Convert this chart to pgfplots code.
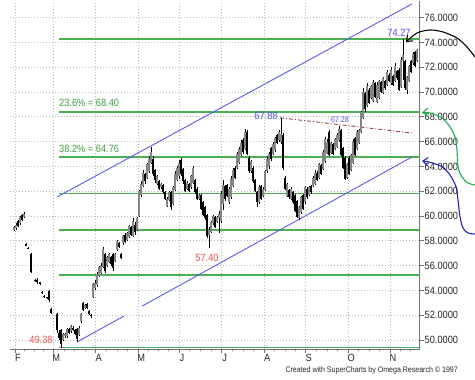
\documentclass[border=0pt]{standalone}
\usepackage{fontspec}
\setmainfont{Liberation Sans}[FakeStretch=0.88]
\usepackage{pgfplots}
\pgfplotsset{compat=1.18}
\usepackage{pgfplotstable}
\usetikzlibrary{arrows.meta}
\definecolor{fibgreen}{HTML}{4CAF50}
\definecolor{fibtext}{HTML}{3FA041}
\definecolor{chanblue}{HTML}{5A5AFF}
\definecolor{lblblue}{HTML}{5050FF}
\definecolor{lblred}{HTML}{FF4D4D}
\definecolor{dashred}{HTML}{A04040}
\definecolor{arrgreen}{HTML}{1FB052}
\definecolor{arrblue}{HTML}{2020C8}
\definecolor{upgray}{HTML}{858585}

\pgfplotstableread{
x l h o c
14 58.80 59.20 58.90 59.10
16 58.90 59.40 59.00 59.30
18 59.10 59.70 59.60 59.20
20 59.30 60.00 59.40 59.90
22 59.60 60.20 60.10 59.70
24 59.80 60.30 59.90 60.20
26 57.55 57.80 57.75 57.60
28 57.30 57.50 57.45 57.35
31 55.40 57.00 56.90 55.50
35 54.70 54.90 54.85 54.75
37 54.50 55.00 54.80 54.70
40 54.45 54.70 54.65 54.50
42 53.70 53.95 53.90 53.75
44 53.40 53.60 53.55 53.45
47 53.30 53.50 53.45 53.35
49 53.10 54.00 53.95 53.20
51 52.10 52.60 52.50 52.20
57 50.60 52.20 52.10 50.80
59 50.00 50.80 50.60 50.20
61 49.38 50.90 50.80 49.70
63 49.90 50.60 50.00 50.50
65 50.20 50.60 50.30 50.50
67 50.20 51.00 50.30 50.90
69 50.50 51.00 50.90 50.60
71 50.60 51.20 50.70 51.10
73 50.70 51.10 51.00 50.80
75 50.40 50.90 50.80 50.50
77 49.85 51.00 50.90 50.10
79 50.30 51.10 50.40 51.00
81 51.40 52.20 51.50 52.10
83 52.30 53.10 53.00 52.40
85 52.50 52.90 52.60 52.80
87 52.50 53.00 52.90 52.60
89 52.00 52.40 52.30 52.10
91 51.80 52.10 52.00 51.90
93 53.40 54.60 53.50 54.50
95 54.00 54.80 54.20 54.60
97 54.30 55.50 54.40 55.30
99 55.10 56.00 55.20 55.90
101 55.30 56.20 55.40 56.00
103 55.80 57.50 55.90 57.30
105 55.40 57.00 56.90 55.60
107 55.90 56.80 56.00 56.70
109 56.20 57.00 56.30 56.90
111 56.00 56.80 56.70 56.10
113 55.60 57.00 56.90 55.80
115 56.30 57.00 56.40 56.90
117 57.20 58.10 57.30 58.00
119 57.40 57.90 57.80 57.50
121 56.50 57.00 56.95 56.60
123 57.70 58.50 57.80 58.40
125 57.80 58.60 58.50 57.90
127 58.00 58.70 58.10 58.60
129 58.20 59.30 58.30 59.20
131 58.40 59.20 59.10 58.50
133 58.30 59.80 58.40 59.60
135 58.50 59.50 59.30 58.70
137 58.80 59.90 58.90 59.80
139 59.90 62.10 60.00 62.00
141 61.50 62.80 61.70 62.60
143 62.30 63.70 62.40 63.50
145 62.60 63.50 63.40 62.80
147 63.00 64.30 63.10 64.20
149 63.50 64.80 63.60 64.60
151 64.20 65.60 64.30 65.20
153 63.20 64.80 64.60 63.40
155 62.70 63.80 63.70 62.90
157 62.50 63.30 62.60 63.20
159 62.10 62.90 62.80 62.20
161 62.20 62.70 62.30 62.60
163 61.80 62.60 62.50 61.90
165 61.30 62.00 61.90 61.40
167 60.70 61.50 60.80 61.40
169 61.20 62.00 61.30 61.90
171 60.50 62.00 61.90 60.70
173 60.90 62.40 61.00 62.30
175 62.00 63.60 62.10 63.40
177 62.80 64.00 62.90 63.90
179 63.00 64.50 63.20 64.30
181 63.20 64.70 64.50 63.40
183 62.60 63.90 63.80 62.80
185 61.90 63.00 62.90 62.00
187 62.10 62.80 62.20 62.70
189 61.90 62.70 62.60 62.00
191 62.20 63.30 62.30 63.20
193 62.60 64.00 62.70 63.90
195 61.80 63.00 62.90 61.90
197 61.30 62.30 62.20 61.40
199 61.30 61.80 61.40 61.70
201 60.50 61.80 61.70 60.60
203 60.00 61.20 61.10 60.10
205 59.70 60.80 60.70 59.80
207 58.20 60.20 60.10 58.40
209 57.40 59.10 58.50 58.90
211 58.60 59.60 58.70 59.50
213 59.30 60.10 59.40 60.00
215 59.00 60.00 59.90 59.10
217 59.40 60.00 59.50 59.90
219 58.60 60.40 59.80 60.20
221 59.40 62.00 59.60 61.80
223 60.50 62.90 61.00 62.50
225 61.20 62.50 62.40 61.40
227 61.50 62.60 62.50 61.60
229 61.00 62.30 61.10 62.20
231 61.40 63.20 61.50 63.00
233 62.30 63.90 62.40 63.70
235 63.00 64.00 63.90 63.10
237 63.80 65.20 63.90 65.00
239 64.20 65.60 64.30 65.40
241 64.80 66.10 64.90 65.90
243 65.00 66.30 66.10 65.20
245 65.30 67.00 65.40 66.80
247 64.90 66.90 66.80 65.00
249 63.50 64.80 64.70 63.60
251 63.50 64.50 63.60 64.40
253 62.70 64.00 63.90 62.80
255 61.90 63.00 62.90 62.00
257 60.70 62.00 61.90 61.10
259 61.00 62.50 61.10 62.30
261 61.30 62.50 62.40 61.40
263 61.50 62.30 61.60 62.20
265 62.00 63.70 62.10 63.60
267 63.50 64.80 63.60 64.60
269 63.80 65.20 64.00 65.00
271 64.40 65.60 65.50 64.60
273 64.90 66.00 65.00 65.80
275 65.20 66.40 65.30 66.30
277 65.80 66.60 66.50 65.90
279 66.00 66.90 66.10 66.80
281 65.80 67.88 66.00 66.60
283 63.70 66.70 66.50 63.90
285 62.10 63.20 63.10 62.20
287 61.50 62.70 61.60 62.60
289 61.40 62.20 62.10 61.50
291 61.30 62.30 61.40 62.20
293 61.00 62.00 61.90 61.10
295 60.30 61.80 61.70 60.40
297 59.80 61.30 61.20 59.90
299 59.70 60.80 59.80 60.70
301 60.20 61.60 60.30 61.50
303 60.50 61.80 61.70 60.60
305 61.00 62.40 61.10 62.30
307 61.40 62.30 62.20 61.50
309 61.60 62.40 61.70 62.30
311 61.80 62.50 62.40 61.90
313 62.30 63.20 62.40 63.10
315 62.50 63.70 62.60 63.50
317 62.80 63.60 63.50 62.90
319 63.00 64.30 63.10 64.20
321 63.30 64.20 64.10 63.40
323 63.70 65.30 63.80 65.20
325 64.30 66.40 64.40 66.20
327 65.00 66.20 65.10 66.00
329 64.80 66.90 66.80 64.90
331 65.00 66.00 65.10 65.90
333 64.90 65.90 65.80 65.00
335 65.30 66.30 65.40 66.20
337 65.50 66.70 65.60 66.50
339 66.00 67.28 66.10 67.00
341 64.80 67.00 66.90 64.90
343 63.80 65.60 65.50 63.90
345 62.90 64.80 64.70 63.00
347 63.00 64.30 63.10 64.20
349 63.30 64.80 64.70 63.40
351 63.60 65.00 63.70 64.90
353 64.20 66.20 64.30 66.00
355 64.80 66.40 66.30 64.90
357 65.30 66.90 65.40 66.80
359 65.80 67.00 65.90 66.90
361 66.70 68.50 66.80 68.40
363 67.80 70.30 67.90 70.00
365 68.40 70.00 69.90 68.60
367 68.80 70.70 68.90 70.50
369 69.00 70.30 70.20 69.10
371 69.40 70.60 69.50 70.50
373 69.20 71.00 69.30 70.80
375 69.50 70.80 70.70 69.60
377 69.10 70.80 69.20 70.60
379 69.40 71.00 69.50 70.90
381 69.90 70.90 70.80 70.00
383 69.80 71.20 69.90 71.10
385 70.20 71.00 70.90 70.30
387 70.50 71.80 70.60 71.60
389 70.80 71.50 71.40 70.90
391 70.60 72.00 70.70 71.80
393 70.50 71.40 71.30 70.60
395 70.80 72.30 70.90 72.10
397 71.00 71.80 71.70 71.10
399 70.10 71.90 71.80 70.20
401 70.30 72.80 70.40 72.60
403 71.00 74.27 72.50 73.00
405 70.20 72.60 72.50 70.30
407 69.80 71.30 70.20 71.20
409 70.80 72.20 70.90 72.10
411 71.50 72.60 72.50 71.60
413 72.20 73.20 72.30 73.10
415 72.00 73.30 73.20 72.10
417 72.40 73.50 72.50 73.40
}\bars

\begin{document}
\begin{tikzpicture}[x=1pt,y=1pt]
\useasboundingbox (0,0) rectangle (475,380);
\fill[white] (0,0) rectangle (475,380);
\begin{axis}[
  at={(10pt,31pt)}, anchor=south west,
  scale only axis, width=409.5pt, height=348pt,
  xmin=10, xmax=419.5, ymin=49.274, ymax=77.339,
  axis x line*=bottom, axis y line*=right,
  axis line style={draw=black!55, line width=0.9pt},
  tick style={draw=black!55, line width=0.7pt},
  tick align=outside,
  major tick length=4pt, minor tick length=2.5pt,
  xtick={15,53.3,95.7,138.3,179,221.7,264.3,305.7,348.3,390},
  xticklabels={F,M,A,M,J,J,A,S,O,N},
  minor xtick={24.6,34.2,43.7,63.9,74.5,85.1,106.4,117,127.7,148.5,158.7,168.8,189.7,200.4,211,232.4,243,253.7,274.7,285,295.4,316.4,327,337.7,358.7,369.2,379.6,400.4,410.8},
  ytick={50,52,...,76},
  xmajorgrids, ymajorgrids,
  major grid style={draw=gray!55, dash pattern=on 1pt off 2pt, line width=0.7pt},
  /pgf/number format/assume math mode=true,
  yticklabel style={/pgf/number format/fixed, /pgf/number format/fixed zerofill, /pgf/number format/precision=5},
  ticklabel style={font=\fontsize{10.5}{12}\selectfont, text=black!85},
  xticklabel style={anchor=north, xshift=3pt, inner sep=1pt},
  yticklabel style={anchor=west, inner sep=1pt},
  clip=true,
]
% Fibonacci levels
\addplot[fibgreen, line width=1.5pt, forget plot] coordinates {(59,74.27) (419.5,74.27)};
\addplot[fibgreen, line width=1.5pt, forget plot] coordinates {(59,68.40) (419.5,68.40)};
\addplot[fibgreen, line width=1.5pt, forget plot] coordinates {(59,64.76) (419.5,64.76)};
\addplot[fibgreen, line width=1.5pt, forget plot] coordinates {(59,61.825) (419.5,61.825)};
\addplot[fibgreen, line width=1.5pt, forget plot] coordinates {(59,58.89) (419.5,58.89)};
\addplot[fibgreen, line width=1.5pt, forget plot] coordinates {(59,55.25) (419.5,55.25)};
\addplot[fibgreen, line width=1.5pt, forget plot] coordinates {(59,49.38) (419.5,49.38)};
% channel
\addplot[chanblue, line width=0.9pt, forget plot] coordinates {(57,61.53) (412,77.10)};
\addplot[chanblue, line width=0.9pt, forget plot] coordinates {(77,49.84) (124,51.93)};
\addplot[chanblue, line width=0.9pt, forget plot] coordinates {(142,52.73) (412,64.76)};
% dash-dot trend
\addplot[dashred, line width=0.9pt, dash pattern=on 4pt off 2pt on 1pt off 2pt, forget plot] coordinates {(280,67.92) (412,66.69)};
% wicks
\addplot[draw=none, mark=none, forget plot,
  error bars/.cd, y dir=plus, y explicit, error mark=none,
  error bar style={draw=black, line width=0.7pt, line cap=butt, solid}]
  table[x=x, y=l, y error plus expr={\thisrow{h}-\thisrow{l}}] {\bars};
% up bodies
\addplot[draw=none, mark=none, forget plot,
  x filter/.expression={\thisrow{c}>\thisrow{o} ? x : nan},
  error bars/.cd, y dir=plus, y explicit, error mark=none,
  error bar style={draw=upgray, line width=1.6pt, line cap=butt, solid}]
  table[x=x, y=o, y error plus expr={\thisrow{c}-\thisrow{o}}] {\bars};
% down bodies
\addplot[draw=none, mark=none, forget plot,
  x filter/.expression={\thisrow{c}>\thisrow{o} ? nan : x},
  error bars/.cd, y dir=plus, y explicit, error mark=none,
  error bar style={draw=black, line width=1.6pt, line cap=butt, solid}]
  table[x=x, y=c, y error plus expr={\thisrow{o}-\thisrow{c}}] {\bars};
% labels
\node[text=lblblue, inner sep=0, font=\fontsize{10.5}{12}\selectfont] at (axis cs:399,74.76) {74.27};
\node[text=lblblue, inner sep=0, font=\fontsize{10.5}{12}\selectfont] at (axis cs:266,68.06) {67.88};
\node[text=lblblue, inner sep=0, font=\fontsize{8}{9}\selectfont] at (axis cs:340,67.78) {67.28};
\node[text=lblred, inner sep=0, font=\fontsize{10.5}{12}\selectfont] at (axis cs:207,56.65) {57.40};
\node[text=lblred, inner sep=0, font=\fontsize{10.5}{12}\selectfont] at (axis cs:41,50.0) {49.38};
\node[text=fibtext, inner sep=0, anchor=west, font=\fontsize{10.5}{12}\selectfont] at (axis cs:59,69.11) {23.6\% = 68.40};
\node[text=fibtext, inner sep=0, anchor=west, font=\fontsize{10.5}{12}\selectfont] at (axis cs:59,65.44) {38.2\% = 64.76};
\end{axis}
% truncate the tick labels like the original
\fill[white] (458,20) rectangle (490,385);
% curved arrows
\draw[black, line width=1.1pt, -{Straight Barb[length=5pt,width=8pt]}] plot[smooth] coordinates {(480,316) (475,323) (467,333) (457,342) (443,348) (430,350) (417,347) (406,338)};
\draw[arrgreen, line width=1.1pt, -{Straight Barb[length=5pt,width=8pt]}] plot[smooth] coordinates {(482,195) (475,195) (468,197) (462,203) (458,213) (457,230) (455,243) (450,253) (442,262) (430,267) (422,267.3)};
\draw[arrblue, line width=1.1pt, -{Straight Barb[length=5pt,width=8pt]}] plot[smooth] coordinates {(482,146) (475,146) (468,147) (463,152) (460,163.3) (458,180) (456,193.3) (450,205) (442,213.3) (430,217.7) (422,219)};
% footer
\node[anchor=east, inner sep=0, font=\fontsize{8}{9}\selectfont, text=black!85] at (458,10) {Created with SuperCharts by Omega Research © 1997};
\end{tikzpicture}
\end{document}
